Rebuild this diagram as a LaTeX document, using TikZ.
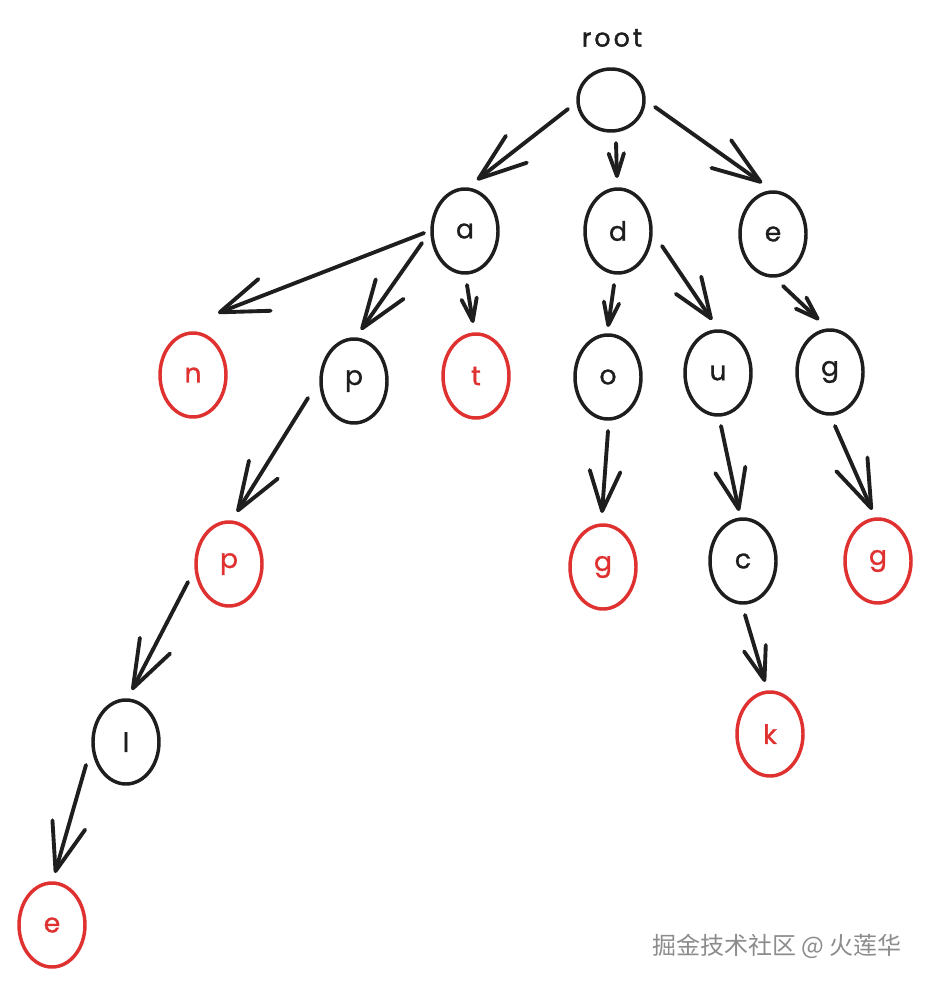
\documentclass[tikz,border=0pt]{standalone}
\usepackage{fontspec}
\setmainfont{Poppins}
\newfontfamily\cjkfont{Noto Sans CJK SC}
\usetikzlibrary{arrows.meta,shapes.geometric}
\definecolor{ink}{HTML}{1E1E1E}
\definecolor{exred}{HTML}{E03131}
\definecolor{wmgray}{HTML}{8C8C8C}
\begin{document}
\begin{tikzpicture}[x=0.75pt,y=-0.75pt,
  trie/.style={ellipse,draw=ink,line width=2.6pt,minimum width=49.5pt,minimum height=63pt,
    inner sep=0pt,text=ink,font=\fontsize{20}{22}\selectfont\addfontfeature{FakeBold=1}},
  leaf/.style={trie,draw=exred,text=exred},
  con/.style={draw=ink,line width=2.9pt,line cap=round},
  arrbig/.style={con,-{Straight Barb[length=36pt,width=25.5pt,round]}},
  arrmid/.style={con,-{Straight Barb[length=30pt,width=23pt,round]}},
  arrsmall/.style={con,-{Straight Barb[length=17pt,width=11.5pt,round]}},
  arrck/.style={con,-{Straight Barb[length=25pt,width=17pt,round]}}
]
\useasboundingbox (0,0) rectangle (930,987);
\fill[white] (0,0) rectangle (930,987);

% label
\node[font=\fontsize{19}{21}\selectfont\addfontfeature{LetterSpace=12,FakeBold=1.5},text=ink] (rootlbl) at (612,38) {root};

% nodes
\node[trie,minimum height=46.5pt] (root) at (611,100) {};
\node[trie] (a) at (465,231) {a};
\node[trie] (d) at (618,231) {d};
\node[trie] (e) at (773,234) {e};
\node[leaf] (n) at (193,375) {n};
\node[trie] (p1) at (354,381) {p};
\node[leaf] (t) at (476,376) {t};
\node[trie] (o) at (608,377) {o};
\node[trie] (u) at (718,373) {u};
\node[trie] (g1) at (830,372) {g};
\node[leaf] (p2) at (229,564) {p};
\node[leaf] (g2) at (603,567) {g};
\node[trie] (c) at (743,561) {c};
\node[leaf] (g3) at (878,561) {g};
\node[trie] (l) at (126,742) {l};
\node[leaf] (k) at (770,734) {k};
\node[leaf] (e2) at (52,925) {e};

% connectors
\draw[arrbig] ([shift={(-43,9)}]root.center) -- ([shift={(12,-51)}]a.center);
\draw[arrsmall] ([shift={(5,43)}]root.center) -- ([shift={(-1,-53)}]d.center);
\draw[arrbig] ([shift={(44,7)}]root.center) -- ([shift={(-11,-51)}]e.center);
\draw[arrbig] ([shift={(-41,2)}]a.center) -- ([shift={(25,-62)}]n.center);
\draw[arrbig] ([shift={(-43,12)}]a.center) -- ([shift={(7,-51)}]p1.center);
\draw[arrsmall] ([shift={(2,54)}]a.center) -- ([shift={(-3,-53)}]t.center);
\draw[arrsmall] ([shift={(-4,54)}]d.center) -- ([shift={(0,-50)}]o.center);
\draw[arrmid] ([shift={(44,15)}]d.center) -- ([shift={(-6,-53)}]u.center);
\draw[arrsmall] ([shift={(10,52)}]e.center) -- ([shift={(-11,-52)}]g1.center);
\draw[arrbig] ([shift={(-46,17)}]p1.center) -- ([shift={(8,-52)}]p2.center);
\draw[arrmid] ([shift={(0,54)}]o.center) -- ([shift={(-1,-54)}]g2.center);
\draw[arrmid] ([shift={(3,53)}]u.center) -- ([shift={(-4,-50)}]c.center);
\draw[arrbig] ([shift={(5,54)}]g1.center) -- ([shift={(-6,-51)}]g3.center);
\draw[arrbig] ([shift={(-41,18)}]p2.center) -- ([shift={(6,-52)}]l.center);
\draw[arrck] ([shift={(2,54)}]c.center) -- ([shift={(-5,-52)}]k.center);
\draw[arrbig] ([shift={(-40,23)}]l.center) -- ([shift={(3,-52)}]e2.center);

% watermark
\node[font=\cjkfont\fontsize{18}{20}\selectfont,text=wmgray,anchor=center] (wm) at (777,946) {掘金技术社区 @ 火莲华};
\end{tikzpicture}
\end{document}
